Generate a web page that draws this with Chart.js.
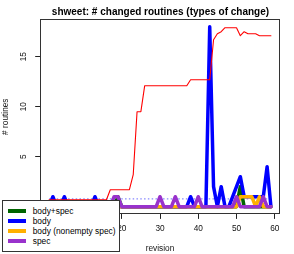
<!DOCTYPE html>
<html>
<head>
<meta charset="utf-8">
<script src="https://cdn.jsdelivr.net/npm/chart.js@4"></script>
<style>
html,body{margin:0;padding:0;background:#fff;}
#wrap{position:relative;width:294px;height:254px;overflow:hidden;font-family:"Liberation Sans",Arial,sans-serif;color:#000;}
#c{position:absolute;left:0;top:0;}
#title{position:absolute;left:0;width:321px;top:4.7px;text-align:center;font-weight:bold;font-size:10px;line-height:14px;white-space:nowrap;}
#legend{position:absolute;left:2px;top:200px;width:118px;height:52px;box-sizing:border-box;border:1px solid #333;background:#fff;}
.sw{position:absolute;left:5.3px;width:17.7px;height:3.4px;}
.lb{position:absolute;left:29.7px;font-size:8.4px;line-height:10px;white-space:nowrap;}
</style>
</head>
<body>
<div id="wrap">
<canvas id="c" width="294" height="254"></canvas>
<div id="title">shweet: # changed routines (types of change)</div>
<div id="legend"></div>
</div>
<script>
// ---- data ----
const revisions = [1,2,3,4,5,6,7,8,9,10,11,12,13,14,15,16,17,18,19,20,21,22,23,24,25,26,27,28,29,30,31,32,33,34,35,36,37,38,39,40,41,42,43,44,45,46,47,48,49,50,51,52,53,54,55,56,57,58,59];
const bodySpec = [0,0,0,0,0,0,0,0,0,0, 0,0,0,0,0,0,0,0,1,0, 0,0,0,0,0,0,0,0,0,0, 0,0,0,0,0,0,0,0,0,0, 0,0,0,0,0,0,0,0,0,0, 2,0,0,0,0,0,0,0,0];
const body = [0,1,0,0,1,0,0,0,0,0, 0,0,1,0,0,0,0,0,0,0, 0,0,0,0,0,0,0,0,0,0, 0,0,0,0,0,0,0,1,0,0, 0,0,18,2,0,2,0,0,1,2, 3,1,1,1,1,1,1,4,0];
const bodyNonemptySpec = [0,0,0,0,0,0,0,0,0,0, 0,0,0,0,0,0,0,0,0,0, 0,0,0,0,0,0,0,0,0,0, 0,0,0,0,0,0,0,0,0,0, 0,0,0,0,0,0,0,0,0,0, 1,1,1,1,0,1,0,0,0];
const spec = [0,0,0,0,0,0,0,0,0,0, 0,0,0,0,0,0,0,1,1,0, 0,0,0,0,0,0,0,0,0,1, 0,0,0,1,0,0,0,0,0,1, 0,0,0,0,0,0,0,0,0,1, 0,0,0,0,0,0,1,0,0];
const redLine = [0.7,0.7,0.7,0.7,0.7,0.7,0.7,0.7,0.7,0.7, 0.7,0.7,0.7,0.7,0.7,0.7,1.7,1.7,1.7,1.7, 1.7,1.7,3.2,9.5,9.5,12.1,12.1,12.1,12.1,12.1, 12.1,12.1,12.1,12.1,12.1,12.1,12.1,12.7,12.7,12.7, 12.7,12.7,12.7,16.7,17.3,17.5,17.9,17.9,17.9,17.9, 17.1,17.5,17.3,17.3,17.3,17.1,17.1,17.1,17.1];
const bodyMean = 0.78;
const seriesNames = ["body+spec","body","body (nonempty spec)","spec"];
const xTicks = [0,10,20,30,40,50,60];
const yTicks = [0,5,10,15];

const COL = {green:'#006400', blue:'#0000ff', orange:'#ffb000', purple:'#9932cc', red:'#ff0000', mean:'#6a6aff'};
const legendColors = [COL.green, COL.blue, COL.orange, COL.purple];

const pts = arr => revisions.map((r,i)=>({x:r, y:arr[i]}));
const FONT = {family:'"Liberation Sans", Arial, sans-serif', size:8.3};
const thick = 3.5;

const boxPlugin = {
  id:'box',
  afterDatasetsDraw(chart){
    const {ctx, chartArea:a} = chart;
    const l=Math.floor(a.left), t=Math.floor(a.top), r=Math.floor(a.right), b=Math.floor(a.bottom);
    ctx.save();
    ctx.strokeStyle='#333'; ctx.lineWidth=1;
    ctx.strokeRect(l+0.5,t+0.5,r-l,b-t);
    ctx.restore();
  }
};

new Chart(document.getElementById('c'), {
  type:'line',
  data:{datasets:[
    {label:'red', data:pts(redLine), borderColor:COL.red, borderWidth:1.1, order:0},
    {label:seriesNames[3], data:pts(spec), borderColor:COL.purple, borderWidth:thick, order:1},
    {label:seriesNames[2], data:pts(bodyNonemptySpec), borderColor:COL.orange, borderWidth:thick, order:2},
    {label:seriesNames[1], data:pts(body), borderColor:COL.blue, borderWidth:thick, order:3},
    {label:seriesNames[0], data:pts(bodySpec), borderColor:COL.green, borderWidth:thick, order:4},
    {label:'mean', data:[{x:revisions[0],y:bodyMean},{x:revisions[revisions.length-1],y:bodyMean}], borderColor:COL.mean, borderWidth:1, borderDash:[1.5,2.3], borderCapStyle:'butt', order:5}
  ]},
  options:{
    responsive:false, animation:false, devicePixelRatio:1,
    elements:{point:{radius:0}, line:{tension:0, borderCapStyle:'round', borderJoinStyle:'round', fill:false}},
    layout:{padding:{top:19.5,right:14.2,left:0,bottom:0}},
    plugins:{legend:{display:false}, title:{display:false}, tooltip:{enabled:false}},
    scales:{
      x:{type:'linear', min:-1.32, max:61.32,
        afterBuildTicks:s=>{s.ticks = xTicks.map(v=>({value:v}));},
        afterFit:s=>{s.height=40.1;},
        grid:{drawOnChartArea:false, drawTicks:true, tickLength:5, color:'#222'},
        border:{display:false},
        ticks:{font:FONT, color:'#111', padding:4.4, maxRotation:0, minRotation:0, autoSkip:false},
        title:{display:true, text:'revision', font:FONT, color:'#111', padding:0}
      },
      y:{type:'linear', min:-0.72, max:18.72,
        afterBuildTicks:s=>{s.ticks = yTicks.map(v=>({value:v}));},
        afterFit:s=>{s.width=40.2;},
        grid:{drawOnChartArea:false, drawTicks:true, tickLength:5, color:'#222'},
        border:{display:false},
        ticks:{font:FONT, color:'#111', padding:6.6, minRotation:90, maxRotation:90, crossAlign:'center', autoSkip:false},
        title:{display:true, text:'# routines', font:FONT, color:'#111', padding:{top:0.5,bottom:0}}
      }
    }
  },
  plugins:[boxPlugin]
});

// legend (HTML, on top of the plot like the original)
const lg = document.getElementById('legend');
seriesNames.forEach((name,i)=>{
  const cy = 10 + i*10;
  const sw = document.createElement('div');
  sw.className='sw'; sw.style.top=(cy-1.7)+'px'; sw.style.background=legendColors[i];
  const lb = document.createElement('div');
  lb.className='lb'; lb.style.top=(cy-5)+'px'; lb.textContent=name;
  lg.appendChild(sw); lg.appendChild(lb);
});
</script>
</body>
</html>
